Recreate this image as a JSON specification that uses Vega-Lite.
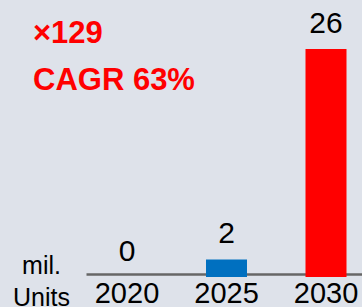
{
  "$schema": "https://vega.github.io/schema/vega-lite/v6.json",
  "width": 281,
  "height": 228,
  "autosize": {"type": "none"},
  "padding": {"left": 86, "top": 49, "right": 0, "bottom": 30},
  "background": "#dee2ea",
  "config": {"view": {"stroke": null}, "font": "Liberation Sans"},
  "title": {
    "text": ["×129", "CAGR 63%"],
    "color": "#ff0000",
    "fontSize": 31,
    "fontWeight": "bold",
    "anchor": "start",
    "frame": "group",
    "baseline": "alphabetic",
    "lineHeight": 47,
    "offset": 0,
    "dx": -53,
    "dy": 112
  },
  "data": {
    "values": [
      {"year": "2020", "units": 0},
      {"year": "2025", "units": 2},
      {"year": "2030", "units": 26}
    ]
  },
  "encoding": {
    "x": {
      "field": "year",
      "type": "ordinal",
      "scale": {"paddingInner": 0.588, "paddingOuter": 0.206},
      "axis": {
        "title": null,
        "labelAngle": 0,
        "labelFontSize": 29,
        "labelColor": "#000000",
        "labelPadding": 5,
        "ticks": false,
        "domainColor": "#666666",
        "domainWidth": 2.5,
        "offset": -3
      }
    },
    "y": {
      "field": "units",
      "type": "quantitative",
      "scale": {"domain": [0, 26], "nice": false},
      "axis": {
        "title": ["mil.", "Units"],
        "titleAngle": 0,
        "titleAlign": "center",
        "titleBaseline": "alphabetic",
        "titleX": -45,
        "titleY": 224,
        "titleLineHeight": 32,
        "titleFontSize": 25,
        "titleFontWeight": "normal",
        "titleColor": "#000000",
        "domain": false,
        "ticks": false,
        "labels": false,
        "grid": false
      }
    }
  },
  "layer": [
    {
      "mark": {"type": "bar"},
      "encoding": {
        "color": {
          "field": "year",
          "type": "ordinal",
          "scale": {"domain": ["2020", "2025", "2030"], "range": ["#0070c0", "#0070c0", "#ff0000"]},
          "legend": null
        }
      }
    },
    {
      "mark": {"type": "text", "fontSize": 30, "baseline": "alphabetic", "dy": -16, "color": "#000000"},
      "encoding": {"text": {"field": "units", "type": "quantitative"}}
    }
  ]
}
